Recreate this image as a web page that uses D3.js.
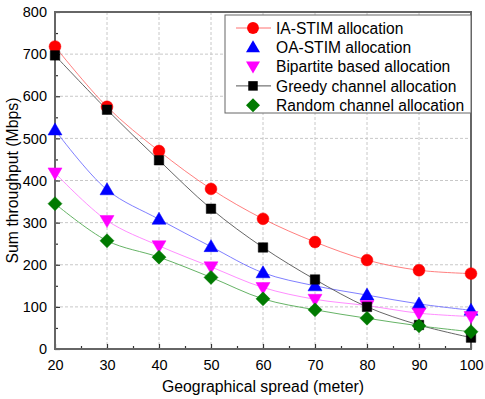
<!DOCTYPE html>
<html>
<head>
<meta charset="utf-8">
<script src="https://cdn.jsdelivr.net/npm/d3@7"></script>
<style>
  body { margin: 0; background: #fff; }
  text { font-family: "Liberation Sans", Arial, sans-serif; fill: #000; }
</style>
</head>
<body>
<div id="chart"></div>
<script>
// chart data
var spread = [20, 30, 40, 50, 60, 70, 80, 90, 100];
var iaStim = [718, 575, 470, 380, 309, 254, 211, 187, 179];
var oaStim = [520, 378, 308, 243, 181, 150, 128, 107, 92];
var bipartite = [418, 305, 245, 195, 146, 118, 103, 85, 77];
var greedy = [697, 568, 448, 333, 241, 165, 100, 57, 27];
var random = [345, 257, 218, 170, 119, 93, 73, 55, 41];
var xTicks = [20, 30, 40, 50, 60, 70, 80, 90, 100];
var yTicks = [0, 100, 200, 300, 400, 500, 600, 700, 800];

var series = [
    { name: "IA-STIM allocation", values: iaStim, color: "#ff0000", line: "#ff7070", shape: "circle", legendLine: true },
    { name: "OA-STIM allocation", values: oaStim, color: "#0000ff", line: "#7070ff", shape: "up", legendLine: false },
    { name: "Bipartite based allocation", values: bipartite, color: "#ff00ff", line: "#ff80ff", shape: "down", legendLine: false },
    { name: "Greedy channel allocation", values: greedy, color: "#000000", line: "#555555", shape: "square", legendLine: true },
    { name: "Random channel allocation", values: random, color: "#007a00", line: "#55aa55", shape: "diamond", legendLine: false }
];

var width = 485, height = 399;
var margin = { top: 12, right: 14, bottom: 50, left: 55 };
var innerW = width - margin.left - margin.right,
    innerH = height - margin.top - margin.bottom;

var svg = d3.select("#chart").append("svg")
    .attr("width", width)
    .attr("height", height);

var g = svg.append("g")
    .attr("transform", "translate(" + margin.left + "," + margin.top + ")");

var x = d3.scaleLinear().domain([20, 100]).range([0, innerW]);
var y = d3.scaleLinear().domain([0, 800]).range([innerH, 0]);

// dashed grid
g.selectAll(".vgrid")
    .data(xTicks.slice(1, -1))
    .enter().append("line")
    .attr("x1", function (d) { return x(d); })
    .attr("x2", function (d) { return x(d); })
    .attr("y1", 0).attr("y2", innerH)
    .attr("stroke", "#c8c8c8")
    .attr("stroke-dasharray", "3,2");

g.selectAll(".hgrid")
    .data(yTicks.slice(1, -1))
    .enter().append("line")
    .attr("y1", function (d) { return y(d); })
    .attr("y2", function (d) { return y(d); })
    .attr("x1", 0).attr("x2", innerW)
    .attr("stroke", "#c8c8c8")
    .attr("stroke-dasharray", "3,2");

// axes with inward ticks
var xAxis = g.append("g")
    .attr("transform", "translate(0," + innerH + ")")
    .call(d3.axisBottom(x).tickValues(xTicks).tickSizeInner(-5).tickSizeOuter(0).tickPadding(11));
var xMinor = g.append("g")
    .attr("transform", "translate(0," + innerH + ")")
    .call(d3.axisBottom(x).tickValues(d3.range(25, 100, 10)).tickSize(-3).tickFormat(""));

var yAxis = g.append("g")
    .call(d3.axisLeft(y).tickValues(yTicks).tickSizeInner(-5).tickSizeOuter(0).tickPadding(8));
var yMinor = g.append("g")
    .call(d3.axisLeft(y).tickValues(d3.range(50, 800, 100)).tickSize(-3).tickFormat(""));

[xAxis, xMinor, yAxis, yMinor].forEach(function (ax) {
    ax.select(".domain").remove();
    ax.selectAll(".tick line").attr("stroke", "#333").attr("stroke-width", 1.2);
    ax.selectAll("text").style("font-size", "14.5px")
        .style("font-family", "'Liberation Sans', Arial, sans-serif");
});

// frame
g.append("rect")
    .attr("width", innerW).attr("height", innerH)
    .attr("fill", "none")
    .attr("stroke", "#666")
    .attr("stroke-width", 2);

// lines
var line = d3.line()
    .x(function (d, i) { return x(spread[i]); })
    .y(function (d) { return y(d); })
    .curve(d3.curveCatmullRom);

g.selectAll(".series-line")
    .data(series)
    .enter().append("path")
    .attr("d", function (d) { return line(d.values); })
    .attr("fill", "none")
    .attr("stroke", function (d) { return d.line; })
    .attr("stroke-width", 0.9);

// marker symbols
function symbolFor(shape) {
    if (shape === "circle") return d3.symbol().type(d3.symbolCircle).size(110)();
    if (shape === "square") return d3.symbol().type(d3.symbolSquare).size(90)();
    if (shape === "diamond") return "M0,-7L7,0L0,7L-7,0Z";
    if (shape === "up") return "M0,-7L7,5L-7,5Z";
    return "M0,7L7,-5L-7,-5Z";
}

series.forEach(function (s) {
    g.selectAll(null)
        .data(s.values)
        .enter().append("path")
        .attr("d", symbolFor(s.shape))
        .attr("transform", function (d, i) {
            return "translate(" + x(spread[i]) + "," + y(d) + ")";
        })
        .attr("fill", s.color)
        .attr("stroke", s.color)
        .attr("stroke-width", 0.5);
});

// legend
var legend = svg.append("g").attr("transform", "translate(225,15)");
legend.append("rect")
    .attr("width", 246).attr("height", 98)
    .attr("fill", "#fff")
    .attr("stroke", "#666")
    .attr("stroke-width", 1);

var item = legend.selectAll(".item")
    .data(series)
    .enter().append("g")
    .attr("transform", function (d, i) { return "translate(0," + (13 + i * 19.3) + ")"; });

item.filter(function (d) { return d.legendLine; })
    .append("line")
    .attr("x1", 11).attr("x2", 46)
    .attr("stroke", function (d) { return d.line; })
    .attr("stroke-width", 1);

item.append("path")
    .attr("d", function (d) { return symbolFor(d.shape); })
    .attr("transform", "translate(28,0)")
    .attr("fill", function (d) { return d.color; });

item.append("text")
    .attr("x", 51)
    .attr("dy", "0.36em")
    .style("font-size", "15.6px")
    .text(function (d) { return d.name; });

// axis titles
svg.append("text")
    .attr("x", margin.left + innerW / 2)
    .attr("y", 392)
    .attr("text-anchor", "middle")
    .style("font-size", "15.8px")
    .text("Geographical spread (meter)");

svg.append("text")
    .attr("transform", "translate(18," + (margin.top + innerH / 2) + ") rotate(-90)")
    .attr("text-anchor", "middle")
    .style("font-size", "15.8px")
    .text("Sum throughput (Mbps)");
</script>
</body>
</html>
